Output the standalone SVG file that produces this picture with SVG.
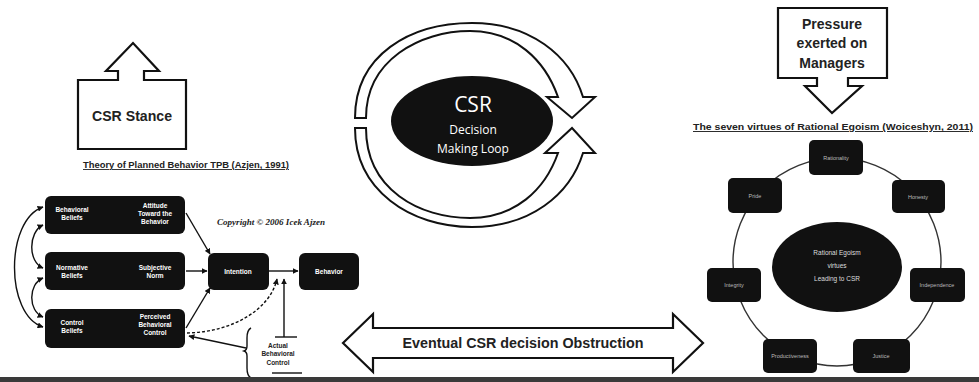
<svg xmlns="http://www.w3.org/2000/svg" width="979" height="382" viewBox="0 0 979 382">
<defs>
<marker id="ah" viewBox="0 0 10 10" refX="9" refY="5" markerWidth="6" markerHeight="6" orient="auto-start-reverse" markerUnits="userSpaceOnUse">
<path d="M0,0 L10,5 L0,10 Z" fill="#111"/>
</marker>
<style>
.callout{fill:#fff;stroke:#111;stroke-width:2.2;stroke-linejoin:miter}
.big{font-family:"Liberation Sans",Arial,sans-serif;font-weight:bold;fill:#222;text-anchor:middle}
.title{font-family:"Liberation Sans",Arial,sans-serif;font-weight:bold;fill:#222;text-decoration:underline}
.box{fill:#111;stroke:none}
.bt{font-family:"Liberation Sans",Arial,sans-serif;font-weight:bold;font-size:6.5px;fill:#fff;text-anchor:middle}
.vt{font-family:"Liberation Sans",Arial,sans-serif;font-size:5.5px;fill:#bbb;text-anchor:middle}
.con{fill:none;stroke:#111;stroke-width:1.4}
.ring{fill:none;stroke:#333;stroke-width:1.4}
.loop{fill:#fff;stroke:#111;stroke-width:2}
</style>
</defs>
<rect width="979" height="382" fill="#fff"/>

<!-- Connectors -->
<g id="connectors">
<path class="con" d="M43,207 C5,220 5,315 43,327" marker-start="url(#ah)" marker-end="url(#ah)"/>
<path class="con" d="M43,225 C28,232 28,262 43,268" marker-start="url(#ah)" marker-end="url(#ah)"/>
<path class="con" d="M43,278 C28,284 28,311 43,317" marker-start="url(#ah)" marker-end="url(#ah)"/>
<line class="con" x1="186" y1="213" x2="210" y2="254" marker-end="url(#ah)"/>
<line class="con" x1="186" y1="271" x2="207" y2="271" marker-end="url(#ah)"/>
<line class="con" x1="186" y1="328" x2="210" y2="288" marker-end="url(#ah)"/>
<line class="con" x1="269" y1="271" x2="298" y2="271" marker-end="url(#ah)"/>
<path class="con" d="M187,333 C232,332 270,310 277,279" stroke-dasharray="3,2" stroke-width="1.6" marker-end="url(#ah)"/>
<line class="con" x1="284" y1="337" x2="284" y2="279" marker-end="url(#ah)"/>
<line class="con" x1="275" y1="337" x2="297" y2="337"/>
<line class="con" x1="246" y1="348" x2="189" y2="336" marker-end="url(#ah)"/>
<path class="con" d="M251,328 Q247,330 247,338 L247,346 Q247,350 244,351 Q247,352 247,356 L247,368 Q247,376 251,378" stroke-width="1"/>
<line class="con" x1="272" y1="373" x2="302" y2="373"/>
<circle class="ring" cx="837" cy="262" r="104"/>
</g>

<!-- CSR Stance -->
<g id="csr-stance">
<path class="callout" d="M78,80 H118 V71 H106 L133,43 L159,71 H144 V80 H186 V149 H78 Z"/>
<text class="big" x="132" y="121" font-size="15" font-weight="normal" textLength="80" lengthAdjust="spacingAndGlyphs">CSR Stance</text>
</g>

<g id="tpb-title">
<text class="title" x="83" y="168" font-size="9" textLength="206" lengthAdjust="spacingAndGlyphs">Theory of Planned Behavior TPB (Azjen, 1991)</text>
</g>

<!-- TPB nodes -->
<g id="behavioral-beliefs-attitude">
<rect class="box" x="45" y="196" width="140" height="38" rx="6"/>
<text class="bt" x="72" y="212">Behavioral</text>
<text class="bt" x="72" y="220">Beliefs</text>
<text class="bt" x="155" y="208">Attitude</text>
<text class="bt" x="155" y="216">Toward the</text>
<text class="bt" x="155" y="224">Behavior</text>
</g>
<g id="normative-beliefs-norm">
<rect class="box" x="45" y="252" width="140" height="38" rx="6"/>
<text class="bt" x="72" y="270">Normative</text>
<text class="bt" x="72" y="278">Beliefs</text>
<text class="bt" x="155" y="270">Subjective</text>
<text class="bt" x="155" y="278">Norm</text>
</g>
<g id="control-beliefs-pbc">
<rect class="box" x="45" y="309" width="140" height="39" rx="6"/>
<text class="bt" x="72" y="325">Control</text>
<text class="bt" x="72" y="333">Beliefs</text>
<text class="bt" x="155" y="319">Perceived</text>
<text class="bt" x="155" y="327">Behavioral</text>
<text class="bt" x="155" y="335">Control</text>
</g>
<g id="intention">
<rect class="box" x="208" y="253" width="61" height="37" rx="6"/>
<text class="bt" x="238" y="274">Intention</text>
</g>
<g id="behavior">
<rect class="box" x="299" y="253" width="60" height="37" rx="6"/>
<text class="bt" x="329" y="274">Behavior</text>
</g>
<g id="actual-control">
<text class="bt" x="278" y="348" fill="#222" style="fill:#222">Actual</text>
<text class="bt" x="278" y="356" style="fill:#222">Behavioral</text>
<text class="bt" x="278" y="365" style="fill:#222">Control</text>
</g>
<g id="copyright">
<text x="217" y="225" font-family="'Liberation Serif',serif" font-style="italic" font-weight="bold" font-size="7.5" fill="#222" textLength="108" lengthAdjust="spacingAndGlyphs">Copyright © 2006 Icek Ajzen</text>
</g>

<!-- CSR loop -->
<g id="csr-loop">
<path class="loop" d="M355,118 C355,55 410,23 472,23 C530,23 570,55 583,97 L595,97 L572,118 L547,97 L558,97 C545,60 515,31 470,31 C420,31 366,60 366,118 Z"/>
<path class="loop" d="M355,128 C355,190 410,227 472,227 C530,227 570,195 583,153 L595,153 L572,128 L545,153 L558,153 C545,190 515,218 470,218 C420,218 366,190 366,128 Z"/>
<ellipse cx="472" cy="121" rx="81" ry="45" fill="#111"/>
<text x="473" y="112" font-family="'Open Sans',sans-serif" font-size="21" fill="#fff" text-anchor="middle">CSR</text>
<text x="473" y="134" font-family="'Open Sans',sans-serif" font-size="12" fill="#fff" text-anchor="middle">Decision</text>
<text x="473" y="153" font-family="'Open Sans',sans-serif" font-size="12" fill="#fff" text-anchor="middle">Making Loop</text>
</g>

<!-- Pressure -->
<g id="pressure">
<path class="callout" d="M778,8 H887 V78 H848 V86 H862 L832,113 L805,86 H817 V78 H778 Z"/>
<text class="big" x="832" y="29" font-size="14">Pressure</text>
<text class="big" x="832" y="48" font-size="14">exerted on</text>
<text class="big" x="832" y="68" font-size="14">Managers</text>
</g>

<g id="virtues-title">
<text class="title" x="693" y="130" font-size="9.5" textLength="280" lengthAdjust="spacingAndGlyphs">The seven virtues of Rational Egoism (Woiceshyn, 2011)</text>
</g>

<!-- Virtues -->
<g id="virtues-center">
<ellipse cx="837" cy="267" rx="65" ry="45" fill="#111"/>
<text class="bt" x="837" y="255" style="font-weight:normal;fill:#ddd">Rational Egoism</text>
<text class="bt" x="837" y="268" style="font-weight:normal;fill:#ddd">virtues</text>
<text class="bt" x="837" y="281" style="font-weight:normal;fill:#ddd">Leading to CSR</text>
</g>
<g id="virtue-top"><rect class="box" x="809" y="140" width="54" height="35" rx="5"/><text class="vt" x="836" y="160">Rationality</text></g>
<g id="virtue-upper-right"><rect class="box" x="892" y="180" width="53" height="33" rx="5"/><text class="vt" x="918" y="199">Honesty</text></g>
<g id="virtue-right"><rect class="box" x="910" y="268" width="55" height="34" rx="5"/><text class="vt" x="937" y="287">Independence</text></g>
<g id="virtue-bottom-right"><rect class="box" x="853" y="339" width="57" height="34" rx="5"/><text class="vt" x="881" y="358">Justice</text></g>
<g id="virtue-bottom-left"><rect class="box" x="763" y="339" width="54" height="34" rx="5"/><text class="vt" x="790" y="358">Productiveness</text></g>
<g id="virtue-left"><rect class="box" x="707" y="268" width="54" height="34" rx="5"/><text class="vt" x="734" y="287">Integrity</text></g>
<g id="virtue-upper-left"><rect class="box" x="728" y="178" width="54" height="35" rx="5"/><text class="vt" x="755" y="198">Pride</text></g>

<!-- Obstruction -->
<g id="obstruction">
<path class="callout" d="M343,343 L373,314 V328 H673 V314 L703,343 L673,372 V358 H373 V372 Z"/>
<text class="big" x="523" y="348" font-size="14" textLength="241" lengthAdjust="spacingAndGlyphs">Eventual CSR decision Obstruction</text>
</g>

<rect x="0" y="377" width="979" height="5" fill="#3a3a3a"/>
</svg>
